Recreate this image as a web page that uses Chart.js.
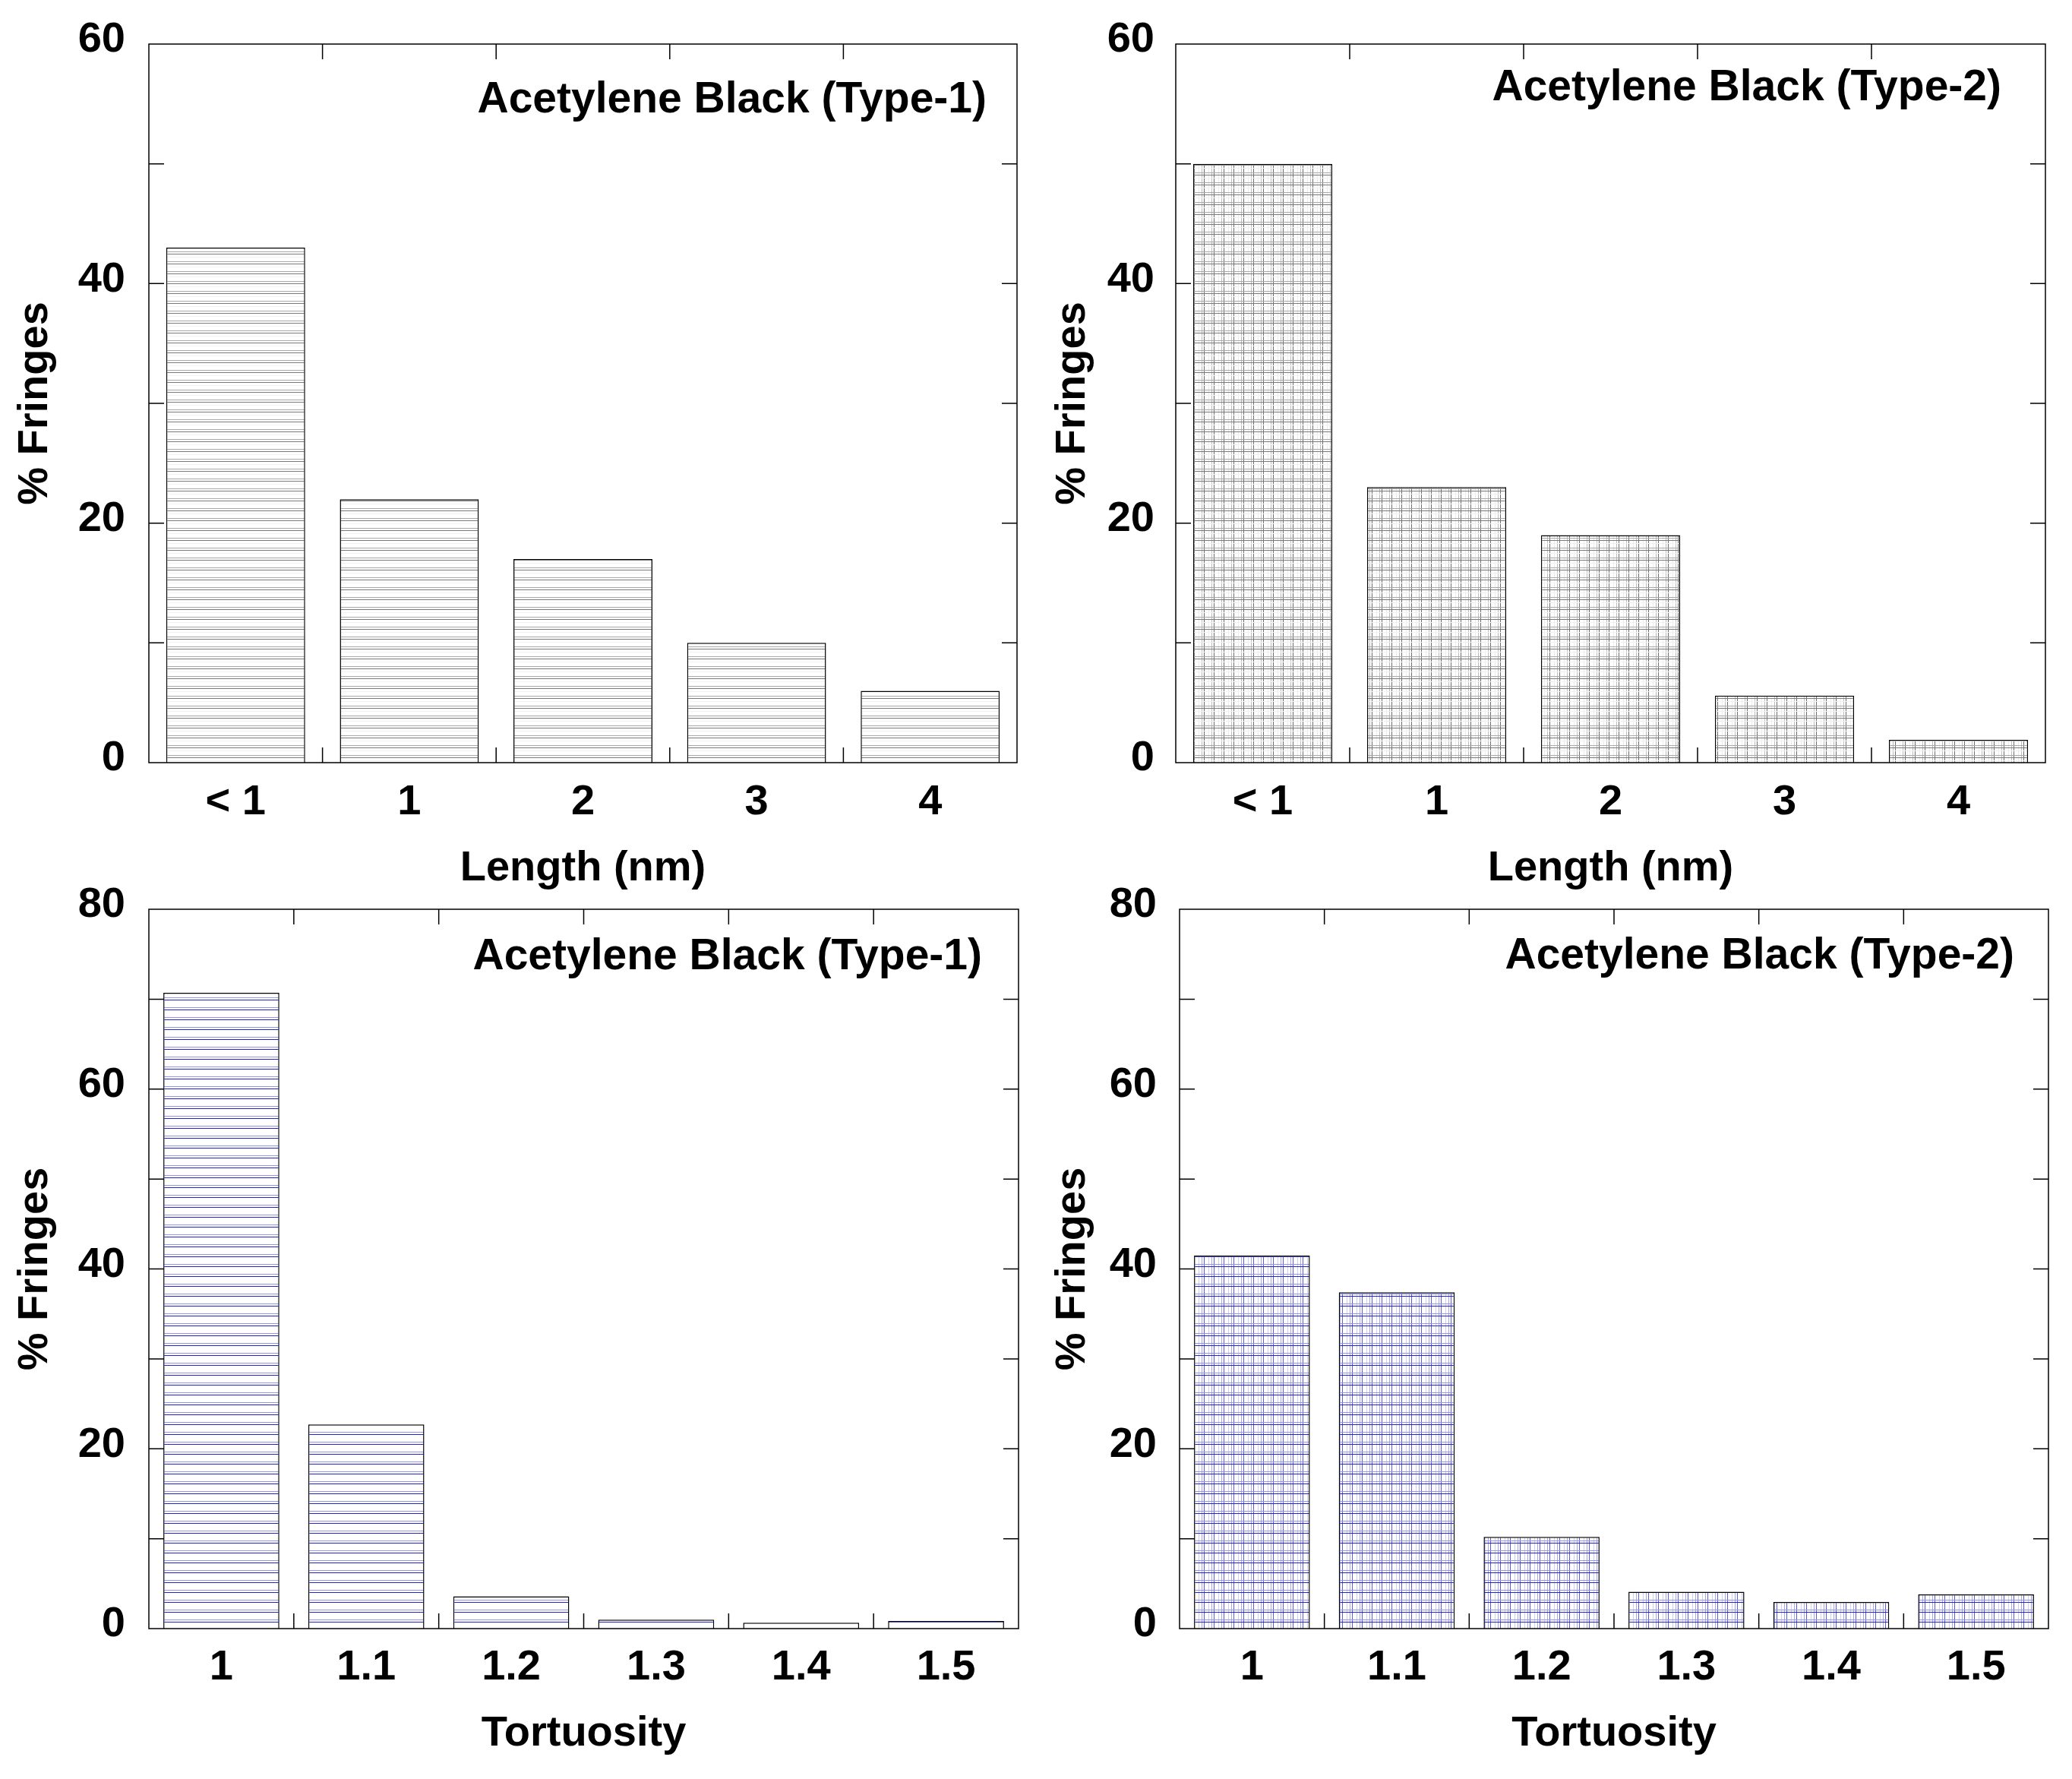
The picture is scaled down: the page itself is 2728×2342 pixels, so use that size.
<!DOCTYPE html>
<html>
<head>
<meta charset="utf-8">
<title>Fringe length and tortuosity</title>
<script src="https://cdn.jsdelivr.net/npm/chart.js@4.4.1/dist/chart.umd.min.js"></script>
<style>
    html, body { margin: 0; padding: 0; background: #fff; }
    #page { position: relative; width: 2728px; height: 2342px; background: #fff; overflow: hidden; }
    #page canvas { position: absolute; }
</style>
</head>
<body>
<div id="page">
    <canvas id="lengthType1"></canvas>
    <canvas id="lengthType2"></canvas>
    <canvas id="tortType1"></canvas>
    <canvas id="tortType2"></canvas>
</div>
<script>
// Chart data
const lengthLabels = ['< 1', '1', '2', '3', '4'];
const tortuosityLabels = ['1', '1.1', '1.2', '1.3', '1.4', '1.5'];

const type1Length = [43, 22, 17, 10, 6];
const type2Length = [50, 23, 19, 5.6, 1.9];
const type1Tortuosity = [70.7, 22.7, 3.6, 1.0, 0.65, 0.85];
const type2Tortuosity = [41.5, 37.4, 10.2, 4.1, 2.95, 3.8];

const lengthAxisMax = 60;
const tortuosityAxisMax = 80;
const majorStep = 20;
const minorStep = 10;

const FONT = "'Liberation Sans', Arial, sans-serif";
const TICK_LEN = 20;

// Small tiles used as bar fills (hatching of the original plot)
function makePattern(kind) {
    const size = 13;
    const c = document.createElement('canvas');
    c.width = size;
    c.height = size;
    const g = c.getContext('2d');
    g.fillStyle = '#fff';
    g.fillRect(0, 0, size, size);
    const hLine = (y, col) => { g.fillStyle = col; g.fillRect(0, y, size, 1); };
    const vLine = (x, col) => { g.fillStyle = col; g.fillRect(x, 0, 1, size); };

    if (kind === 'grayLines' || kind === 'grayGrid') {
        if (kind === 'grayGrid') {
            vLine(6, '#ececec');
            vLine(10, '#bcbcbc');
            vLine(0, '#6e6e6e');
        }
        hLine(7, '#f2f2f2');
        hLine(0, '#a8a8a8');
        hLine(3, '#7a7a7a');
    } else {
        if (kind === 'blueGrid') {
            vLine(6, '#cfcff6');
            vLine(10, '#a4a4ef');
            vLine(0, '#5a5ae2');
        }
        hLine(0, '#9494ea');
        hLine(3, '#2424cc');
    }
    return g.createPattern(c, 'repeat');
}

// Frame, inward ticks on all four sides and the sample caption
const framePlugin = {
    id: 'frameTicks',
    afterDraw(chart, args, opts) {
        const { ctx, chartArea: a, scales: { x, y } } = chart;
        ctx.save();
        ctx.strokeStyle = '#000';
        ctx.lineWidth = 1.5;
        ctx.strokeRect(a.left, a.top, a.right - a.left, a.bottom - a.top);

        ctx.beginPath();
        for (let v = y.min + minorStep; v < y.max; v += minorStep) {
            const py = y.getPixelForValue(v);
            ctx.moveTo(a.left, py);
            ctx.lineTo(a.left + TICK_LEN, py);
            ctx.moveTo(a.right, py);
            ctx.lineTo(a.right - TICK_LEN, py);
        }
        for (let i = 1; i < x.ticks.length; i++) {
            const px = (x.getPixelForValue(i - 1) + x.getPixelForValue(i)) / 2;
            ctx.moveTo(px, a.top);
            ctx.lineTo(px, a.top + TICK_LEN);
            ctx.moveTo(px, a.bottom);
            ctx.lineTo(px, a.bottom - TICK_LEN);
        }
        ctx.stroke();

        ctx.fillStyle = '#000';
        ctx.font = 'bold 57px ' + FONT;
        ctx.textAlign = 'right';
        ctx.textBaseline = 'alphabetic';
        ctx.fillText(opts.text, a.right - opts.dx, a.top + opts.dy);
        ctx.restore();
    }
};

function makePanel(id, panel) {
    const canvas = document.getElementById(id);
    canvas.width = panel.w;
    canvas.height = panel.h;
    canvas.style.left = panel.left + 'px';
    canvas.style.top = panel.top + 'px';

    const font = { family: FONT, size: 56, weight: 'bold' };

    return new Chart(canvas, {
        type: 'bar',
        data: {
            labels: panel.labels,
            datasets: [{
                data: panel.values,
                backgroundColor: makePattern(panel.fill),
                borderColor: '#000',
                borderWidth: 1.5,
                barPercentage: 0.8,
                categoryPercentage: 1.0
            }]
        },
        options: {
            responsive: false,
            animation: false,
            devicePixelRatio: 1,
            events: [],
            layout: {
                padding: { left: 0, top: panel.padTop, right: panel.padRight, bottom: panel.padBottom }
            },
            plugins: {
                legend: { display: false },
                tooltip: { enabled: false },
                frameTicks: { text: panel.caption, dx: panel.captionDx, dy: panel.captionDy }
            },
            scales: {
                x: {
                    grid: { display: false },
                    border: { display: false },
                    ticks: {
                        color: '#000', font, padding: panel.xTickPad,
                        autoSkip: false, maxRotation: 0
                    },
                    title: {
                        display: true, text: panel.xTitle, color: '#000', font,
                        padding: { top: 0, bottom: 0 }
                    },
                    afterFit: (scale) => { scale.height = panel.xHeight; }
                },
                y: {
                    min: 0,
                    max: panel.max,
                    grid: { display: false },
                    border: { display: false },
                    ticks: {
                        stepSize: majorStep, color: '#000', font,
                        padding: panel.yTickPad, labelOffset: -5
                    },
                    title: {
                        display: true, text: '% Fringes', color: '#000', font,
                        padding: { top: panel.yTitlePad, bottom: 0 }
                    },
                    afterFit: (scale) => { scale.width = panel.yWidth; }
                }
            }
        },
        plugins: [framePlugin]
    });
}

// Initialize the four panels
makePanel('lengthType1', {
    labels: lengthLabels, values: type1Length, fill: 'grayLines', max: lengthAxisMax,
    xTitle: 'Length (nm)', caption: 'Acetylene Black (Type-1)', captionDx: 40, captionDy: 90,
    left: 0, top: -20, w: 1364, h: 1220,
    yWidth: 196, padTop: 78, padRight: 25, padBottom: 22.4, xHeight: 173.6,
    xTickPad: 11, yTickPad: 23, yTitlePad: 13.4
});

makePanel('lengthType2', {
    labels: lengthLabels, values: type2Length, fill: 'grayGrid', max: lengthAxisMax,
    xTitle: 'Length (nm)', caption: 'Acetylene Black (Type-2)', captionDx: 58, captionDy: 74,
    left: 1364, top: -20, w: 1364, h: 1220,
    yWidth: 184, padTop: 78, padRight: 35, padBottom: 22.4, xHeight: 173.6,
    xTickPad: 11, yTickPad: 20, yTitlePad: 15.4
});

makePanel('tortType1', {
    labels: tortuosityLabels, values: type1Tortuosity, fill: 'blueLines', max: tortuosityAxisMax,
    xTitle: 'Tortuosity', caption: 'Acetylene Black (Type-1)', captionDx: 48, captionDy: 79,
    left: 0, top: 1131, w: 1364, h: 1211,
    yWidth: 196, padTop: 66, padRight: 23, padBottom: 25.4, xHeight: 172.6,
    xTickPad: 10, yTickPad: 23, yTitlePad: 13.4
});

makePanel('tortType2', {
    labels: tortuosityLabels, values: type2Tortuosity, fill: 'blueGrid', max: tortuosityAxisMax,
    xTitle: 'Tortuosity', caption: 'Acetylene Black (Type-2)', captionDx: 45, captionDy: 78,
    left: 1364, top: 1131, w: 1364, h: 1211,
    yWidth: 189, padTop: 66, padRight: 31, padBottom: 25.4, xHeight: 172.6,
    xTickPad: 10, yTickPad: 22, yTitlePad: 15.4
});
</script>
</body>
</html>
